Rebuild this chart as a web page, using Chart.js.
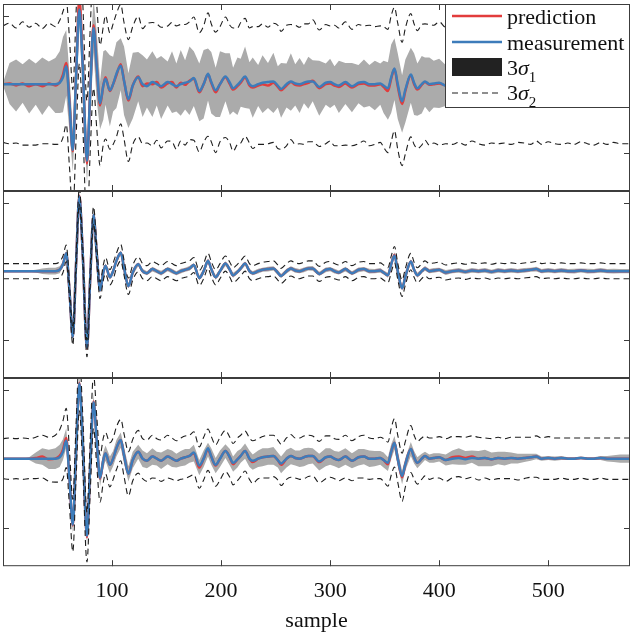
<!DOCTYPE html>
<html>
<head>
<meta charset="utf-8">
<script src="https://cdn.jsdelivr.net/npm/chart.js@4"></script>
<style>
  body { margin: 0; background: #fff; }
  #wrap { position: relative; width: 633px; height: 634px; }
  #wrap canvas { position: absolute; left: 0; }
</style>
</head>
<body>
<div id="wrap">
  <canvas id="panelTop" width="633" height="195" style="top:0px"></canvas>
  <canvas id="panelMid" width="633" height="195" style="top:187px"></canvas>
  <canvas id="panelBot" width="633" height="260" style="top:374px"></canvas>
</div>
<script>
'use strict';

// sample positions (read at the extrema / flat anchors of the traces)
const sampleIdx = [
  0, 6, 12, 18, 24, 30, 36, 42, 48, 52,
  55, 58, 61, 64, 67, 70, 73, 77, 80, 83,
  86, 89, 92, 94, 98, 101, 104, 108, 111, 115,
  119, 124, 128, 132, 137, 141, 145, 151, 155, 159,
  163, 167, 171, 175, 180, 184, 188, 191, 195, 199,
  204, 208, 211, 215, 218, 222, 226, 229, 234, 238,
  243, 248, 252, 255, 260, 264, 268, 272, 276, 280,
  284, 290, 296, 300, 304, 308, 314, 320, 326, 331,
  336, 341, 346, 349, 353, 356, 359, 362, 366, 369,
  374, 377, 380, 384, 387, 391, 395, 400, 406, 412,
  418, 424, 430, 436, 442, 448, 454, 460, 466, 472,
  478, 484, 489, 494, 500, 506, 512, 518, 524, 530,
  536, 542, 548, 554, 560, 566, 575
];

// measured signal (same in all three panels)
const measurement = [
  0, 0, 0, 0, 0, 0, 0, 0, 0, 0.02,
  0.1, 0.26, -0.3, -0.96, 0.1, 1.09, 0.3, -1.12, -0.1, 0.82,
  0.25, -0.28, -0.02, 0.08, -0.09, 0, 0.15, 0.27, 0.05, -0.22,
  -0.02, 0.1, 0, -0.03, 0.03, 0, -0.03, 0.03, 0, -0.03,
  0, 0.02, 0.04, 0.09, -0.1, 0, 0.15, 0.03, -0.09, 0,
  0.11, 0.02, -0.06, -0.01, 0.04, 0.11, 0, -0.03, 0, 0.02,
  0.03, 0.04, -0.02, -0.07, 0, 0.04, 0.01, 0, 0.02, 0.04,
  0.04, -0.04, 0.02, 0.03, 0, -0.02, 0.03, -0.03, 0.02, 0.03,
  0, 0, 0.01, -0.02, -0.06, 0.1, 0.23, 0, -0.25, -0.08,
  0.14, 0.02, -0.06, 0, 0.04, 0, 0.01, 0.02, -0.02, 0,
  0.01, -0.01, 0.01, 0, 0.01, -0.01, 0.01, 0, 0.01, 0,
  0.01, 0.02, 0.03, 0, 0.01, 0, 0.01, 0, 0, 0.01,
  0, 0, 0.01, 0, 0, 0, 0
];

// predictions, one per panel
const predTop = [
  0, 0.01, -0.02, 0.01, -0.03, 0, -0.03, 0.01, -0.02, 0.03,
  0.14, 0.31, -0.28, -0.98, 0.12, 1.25, 0.35, -1.16, -0.08, 0.86,
  0.25, -0.31, -0.02, 0.1, -0.1, 0, 0.13, 0.29, 0.05, -0.24,
  -0.02, 0.11, -0.03, 0.01, 0, 0.03, -0.05, 0.01, 0.03, -0.05,
  0.02, -0.01, 0.05, 0.08, -0.12, 0, 0.14, 0.02, -0.12, 0,
  0.1, 0, -0.08, -0.03, 0.02, 0.1, -0.02, -0.05, -0.02, 0,
  -0.02, 0.02, -0.04, -0.09, -0.02, 0.03, -0.01, -0.02, 0, 0.02,
  0.05, -0.06, 0, 0.01, -0.02, -0.04, 0.01, -0.05, 0, 0.01,
  -0.02, -0.02, 0, -0.04, -0.1, 0.08, 0.22, -0.03, -0.29, -0.1,
  0.13, 0, -0.08, -0.01, 0.03, -0.01, 0, 0.01, -0.02, 0,
  0.01, -0.01, 0.01, 0, 0.01, -0.01, 0.01, 0, 0.01, 0,
  0.01, 0.02, 0.03, 0, 0.01, 0, 0.01, 0, 0, 0.01,
  0, 0, 0.01, 0, 0, 0, 0
];
const predMid = [
  0, 0, 0, 0, 0, 0, 0, 0, 0, 0.02,
  0.1, 0.26, -0.3, -0.96, 0.1, 1.1, 0.3, -1.13, -0.1, 0.82,
  0.25, -0.28, -0.02, 0.08, -0.09, 0, 0.15, 0.27, 0.05, -0.22,
  -0.02, 0.1, 0, -0.03, 0.03, 0, -0.03, 0.03, 0, -0.03,
  0, 0.02, 0.04, 0.09, -0.1, 0, 0.15, 0.03, -0.09, 0,
  0.11, 0.02, -0.06, -0.01, 0.04, 0.11, 0, -0.03, 0, 0.02,
  0.03, 0.04, -0.02, -0.07, 0, 0.04, 0.01, 0, 0.02, 0.04,
  0.04, -0.04, 0.02, 0.03, 0, -0.02, 0.03, -0.03, 0.02, 0.03,
  0, 0, 0.01, -0.02, -0.06, 0.1, 0.24, 0, -0.25, -0.08,
  0.14, 0.02, -0.06, 0, 0.04, 0, 0.01, 0.02, -0.02, 0,
  0.01, -0.01, 0.01, 0, 0.01, -0.01, 0.01, 0, 0.01, 0,
  0.01, 0.02, 0.03, 0, 0.01, 0, 0.01, 0, 0, 0.01,
  0, 0, 0.01, 0, 0, 0, 0
];
const predBot = [
  0, 0, 0, 0, 0, 0.01, 0.03, -0.01, 0, 0.04,
  0.13, 0.3, -0.3, -0.97, 0.1, 1.1, 0.3, -1.14, -0.1, 0.83,
  0.25, -0.29, -0.02, 0.08, -0.09, 0, 0.15, 0.27, 0.05, -0.22,
  -0.02, 0.1, 0, -0.03, 0.03, 0, -0.03, 0.03, 0, -0.03,
  0, 0.02, 0.04, 0.08, -0.13, 0, 0.13, 0.03, -0.1, 0,
  0.11, 0.02, -0.08, -0.01, 0.04, 0.11, 0, -0.05, 0, 0.02,
  0.03, 0.04, -0.02, -0.09, 0, 0.04, 0.01, 0, 0.02, 0.04,
  0.04, -0.05, 0.02, 0.03, 0, -0.02, 0.03, -0.03, 0.02, 0.03,
  0, 0, 0.01, -0.02, -0.08, 0.1, 0.23, 0, -0.27, -0.08,
  0.14, 0.02, -0.06, 0, 0.04, 0, 0.01, 0.02, -0.02, 0.02,
  0.03, 0.01, 0.03, 0, 0.01, -0.01, 0.01, 0, 0.01, 0,
  0.01, 0.02, 0.03, 0, 0.01, 0, 0.01, 0, 0, 0.01,
  0, 0, 0.01, 0, 0, 0, 0
];

// 3*sigma1 (grey band half width) per panel
const sigma1Top = [
  0.02, 0.3, 0.38, 0.28, 0.4, 0.3, 0.42, 0.32, 0.4, 0.45,
  0.55, 0.48, 0.42, 0.3, 0.45, 0.4, 0.45, 0.3, 0.45, 0.4,
  0.5, 0.35, 0.5, 0.4, 0.52, 0.4, 0.48, 0.38, 0.5, 0.4,
  0.48, 0.36, 0.45, 0.35, 0.48, 0.34, 0.46, 0.32, 0.45, 0.35,
  0.48, 0.36, 0.5, 0.4, 0.42, 0.5, 0.38, 0.45, 0.36, 0.48,
  0.35, 0.45, 0.32, 0.42, 0.35, 0.45, 0.34, 0.44, 0.3, 0.42,
  0.33, 0.44, 0.3, 0.4, 0.32, 0.42, 0.3, 0.4, 0.28, 0.38,
  0.3, 0.4, 0.3, 0.36, 0.28, 0.38, 0.3, 0.36, 0.28, 0.35,
  0.3, 0.36, 0.3, 0.38, 0.42, 0.5, 0.45, 0.48, 0.42, 0.46,
  0.4, 0.45, 0.38, 0.42, 0.36, 0.4, 0.34, 0.36, 0.3, 0.32,
  0.3, 0.32, 0.3, 0.32, 0.3, 0.32, 0.3, 0.32, 0.3, 0.32,
  0.3, 0.32, 0.3, 0.32, 0.3, 0.32, 0.3, 0.32, 0.3, 0.32,
  0.3, 0.32, 0.3, 0.32, 0.3, 0.32, 0.3
];
const sigma1Mid = [
  0, 0, 0, 0, 0.01, 0.02, 0.04, 0.05, 0.05, 0.05,
  0.04, 0.04, 0.04, 0.04, 0.04, 0.04, 0.04, 0.04, 0.04, 0.04,
  0.035, 0.03, 0.035, 0.03, 0.035, 0.03, 0.035, 0.03, 0.035, 0.03,
  0.035, 0.03, 0.035, 0.03, 0.035, 0.03, 0.035, 0.03, 0.035, 0.03,
  0.035, 0.03, 0.035, 0.03, 0.035, 0.03, 0.035, 0.03, 0.035, 0.03,
  0.035, 0.03, 0.035, 0.03, 0.035, 0.03, 0.035, 0.03, 0.035, 0.03,
  0.035, 0.03, 0.035, 0.03, 0.035, 0.03, 0.035, 0.03, 0.035, 0.03,
  0.035, 0.03, 0.035, 0.03, 0.035, 0.03, 0.035, 0.03, 0.035, 0.03,
  0.035, 0.03, 0.035, 0.03, 0.035, 0.03, 0.035, 0.03, 0.035, 0.03,
  0.035, 0.03, 0.035, 0.03, 0.035, 0.03, 0.035, 0.03, 0.035, 0.03,
  0.035, 0.03, 0.035, 0.03, 0.035, 0.03, 0.035, 0.03, 0.035, 0.03,
  0.035, 0.03, 0.035, 0.03, 0.035, 0.03, 0.035, 0.03, 0.035, 0.03,
  0.035, 0.03, 0.035, 0.03, 0.035, 0.03, 0.03
];
const sigma1Bot = [
  0, 0, 0, 0, 0.02, 0.08, 0.12, 0.14, 0.15, 0.16,
  0.15, 0.14, 0.13, 0.12, 0.12, 0.13, 0.12, 0.13, 0.12, 0.12,
  0.12, 0.11, 0.12, 0.11, 0.12, 0.11, 0.12, 0.11, 0.12, 0.11,
  0.12, 0.1, 0.12, 0.11, 0.12, 0.1, 0.12, 0.11, 0.12, 0.1,
  0.11, 0.12, 0.1, 0.12, 0.11, 0.12, 0.1, 0.12, 0.11, 0.12,
  0.1, 0.12, 0.11, 0.12, 0.1, 0.11, 0.12, 0.11, 0.12, 0.13,
  0.12, 0.13, 0.11, 0.12, 0.13, 0.12, 0.11, 0.12, 0.13, 0.12,
  0.11, 0.12, 0.13, 0.12, 0.11, 0.12, 0.12, 0.11, 0.12, 0.11,
  0.12, 0.11, 0.1, 0.11, 0.1, 0.11, 0.1, 0.11, 0.1, 0.09,
  0.1, 0.09, 0.08, 0.07, 0.06, 0.06, 0.07, 0.06, 0.08, 0.1,
  0.12, 0.1, 0.09, 0.11, 0.12, 0.1, 0.09, 0.1, 0.08, 0.07,
  0.06, 0.05, 0.04, 0.03, 0.03, 0.03, 0.03, 0.02, 0.02, 0.02,
  0.02, 0.02, 0.03, 0.04, 0.05, 0.06, 0.06
];

// 3*sigma2 (dashed envelope half width) per panel
const sigma2Top = [
  0.85, 0.88, 0.84, 0.9, 0.86, 0.89, 0.84, 0.88, 0.86, 0.9,
  0.92, 0.9, 0.94, 0.9, 0.92, 0.95, 0.9, 0.92, 0.9, 0.92,
  0.9, 0.88, 0.86, 0.9, 0.85, 0.88, 0.9, 0.87, 0.85, 0.89,
  0.86, 0.88, 0.84, 0.87, 0.9, 0.85, 0.88, 0.84, 0.87, 0.9,
  0.85, 0.88, 0.86, 0.9, 0.87, 0.85, 0.9, 0.86, 0.88, 0.84,
  0.88, 0.86, 0.9, 0.85, 0.88, 0.86, 0.84, 0.89, 0.86, 0.88,
  0.85, 0.87, 0.9, 0.86, 0.88, 0.84, 0.87, 0.85, 0.88, 0.86,
  0.89, 0.85, 0.87, 0.84, 0.88, 0.86, 0.9, 0.85, 0.87, 0.84,
  0.88, 0.86, 0.85, 0.88, 0.9, 0.92, 0.9, 0.92, 0.9, 0.92,
  0.9, 0.88, 0.86, 0.88, 0.85, 0.88, 0.86, 0.9, 0.85, 0.88,
  0.86, 0.88, 0.84, 0.87, 0.9, 0.85, 0.88, 0.86, 0.89, 0.85,
  0.87, 0.9, 0.86, 0.88, 0.85, 0.87, 0.89, 0.86, 0.88, 0.85,
  0.87, 0.89, 0.86, 0.88, 0.85, 0.87, 0.87
];
const sigma2Mid = [
  0.11, 0.11, 0.11, 0.11, 0.11, 0.11, 0.11, 0.11, 0.11, 0.12,
  0.12, 0.12, 0.12, 0.12, 0.12, 0.12, 0.12, 0.12, 0.12, 0.12,
  0.12, 0.12, 0.11, 0.12, 0.11, 0.12, 0.11, 0.12, 0.11, 0.12,
  0.11, 0.11, 0.11, 0.11, 0.11, 0.11, 0.11, 0.11, 0.11, 0.11,
  0.11, 0.11, 0.11, 0.11, 0.11, 0.11, 0.11, 0.11, 0.11, 0.11,
  0.11, 0.11, 0.11, 0.11, 0.11, 0.11, 0.11, 0.11, 0.11, 0.11,
  0.11, 0.11, 0.11, 0.11, 0.11, 0.11, 0.11, 0.11, 0.11, 0.11,
  0.11, 0.11, 0.11, 0.11, 0.11, 0.11, 0.11, 0.11, 0.11, 0.11,
  0.11, 0.11, 0.11, 0.11, 0.11, 0.12, 0.12, 0.12, 0.12, 0.12,
  0.12, 0.11, 0.11, 0.11, 0.11, 0.11, 0.11, 0.11, 0.11, 0.11,
  0.11, 0.11, 0.11, 0.11, 0.11, 0.11, 0.11, 0.11, 0.11, 0.11,
  0.11, 0.11, 0.11, 0.11, 0.11, 0.11, 0.11, 0.11, 0.11, 0.11,
  0.11, 0.11, 0.11, 0.11, 0.11, 0.11, 0.11
];
const sigma2Bot = [
  0.29, 0.3, 0.29, 0.3, 0.29, 0.3, 0.31, 0.32, 0.34, 0.38,
  0.42, 0.43, 0.4, 0.38, 0.4, 0.4, 0.38, 0.36, 0.38, 0.39,
  0.36, 0.34, 0.32, 0.3, 0.32, 0.3, 0.31, 0.3, 0.31, 0.32,
  0.3, 0.31, 0.29, 0.3, 0.31, 0.29, 0.3, 0.31, 0.3, 0.29,
  0.3, 0.31, 0.3, 0.31, 0.3, 0.31, 0.3, 0.29, 0.3, 0.31,
  0.3, 0.29, 0.3, 0.31, 0.3, 0.29, 0.3, 0.31, 0.29, 0.3,
  0.31, 0.3, 0.29, 0.3, 0.3, 0.31, 0.29, 0.3, 0.31, 0.3,
  0.29, 0.3, 0.31, 0.3, 0.29, 0.3, 0.31, 0.29, 0.3, 0.31,
  0.3, 0.29, 0.3, 0.31, 0.32, 0.34, 0.35, 0.34, 0.35, 0.33,
  0.34, 0.32, 0.31, 0.3, 0.29, 0.3, 0.29, 0.3, 0.31, 0.3,
  0.29, 0.3, 0.3, 0.31, 0.29, 0.3, 0.3, 0.29, 0.3, 0.31,
  0.3, 0.29, 0.3, 0.3, 0.31, 0.3, 0.29, 0.3, 0.3, 0.29,
  0.3, 0.3, 0.29, 0.3, 0.3, 0.3, 0.3
];

const xTickValues = [100, 200, 300, 400, 500];
const yTickValues = [-1, 1];
const xRange = [0, 575];
const yRange = [-1.56, 1.17];

const RED = '#e23c3c';
const BLUE = '#3d7cba';
const BAND = '#ababab';
const DASH = '#1e1e1e';
const AXIS = '#3c3c3c';
const SERIF = '"Liberation Serif", "Times New Roman", serif';
const TICK_LEN = 6;

function toPoints(values) {
    return sampleIdx.map((x, i) => ({ x: x, y: values[i] }));
}

function shifted(center, width, sign) {
    return sampleIdx.map((x, i) => ({ x: x, y: center[i] + sign * width[i] }));
}

// box around each panel plus inward ticks on all four sides
const frameTicks = {
    id: 'frameTicks',
    afterDraw(chart) {
        const { ctx, chartArea: a, scales } = chart;
        ctx.save();
        ctx.strokeStyle = AXIS;
        ctx.lineWidth = 1;
        ctx.beginPath();
        xTickValues.forEach(v => {
            const px = Math.round(scales.x.getPixelForValue(v)) + 0.5;
            ctx.moveTo(px, a.top);
            ctx.lineTo(px, a.top + TICK_LEN);
            ctx.moveTo(px, a.bottom);
            ctx.lineTo(px, a.bottom - TICK_LEN);
        });
        yTickValues.forEach(v => {
            const py = Math.round(scales.y.getPixelForValue(v)) + 0.5;
            ctx.moveTo(a.left, py);
            ctx.lineTo(a.left + TICK_LEN, py);
            ctx.moveTo(a.right, py);
            ctx.lineTo(a.right - TICK_LEN, py);
        });
        ctx.stroke();
        ctx.strokeRect(a.left + 0.5, a.top + 0.5, a.width - 1, a.height - 1);
        ctx.restore();
    }
};

// legend box in the top panel (sigma needs an italic glyph and subscript)
const legendBox = {
    id: 'legendBox',
    afterDraw(chart) {
        const ctx = chart.ctx;
        const a = chart.chartArea;
        const x0 = 445, y0 = a.top, x1 = a.right, y1 = 108;
        const sx0 = 452, sx1 = 502, tx = 507;
        ctx.save();
        ctx.fillStyle = '#fff';
        ctx.fillRect(x0, y0, x1 - x0, y1 - y0);
        ctx.strokeStyle = AXIS;
        ctx.lineWidth = 1;
        ctx.strokeRect(x0 + 0.5, y0 + 0.5, x1 - x0 - 1, y1 - y0 - 1);

        ctx.lineWidth = 2.5;
        ctx.strokeStyle = RED;
        ctx.beginPath(); ctx.moveTo(sx0, 16); ctx.lineTo(sx1, 16); ctx.stroke();
        ctx.strokeStyle = BLUE;
        ctx.beginPath(); ctx.moveTo(sx0, 42); ctx.lineTo(sx1, 42); ctx.stroke();
        ctx.fillStyle = '#222';
        ctx.fillRect(sx0, 58, sx1 - sx0, 18);
        ctx.strokeStyle = DASH;
        ctx.lineWidth = 1.2;
        ctx.setLineDash([6, 4]);
        ctx.beginPath(); ctx.moveTo(sx0, 93); ctx.lineTo(sx1, 93); ctx.stroke();
        ctx.setLineDash([]);

        ctx.fillStyle = '#111';
        ctx.textBaseline = 'alphabetic';
        ctx.font = '22px ' + SERIF;
        ctx.fillText('prediction', tx, 24);
        ctx.fillText('measurement', tx, 50);
        [['1', 75], ['2', 100]].forEach(([sub, base]) => {
            let x = tx;
            ctx.font = '22px ' + SERIF;
            ctx.fillText('3', x, base);
            x += ctx.measureText('3').width;
            ctx.font = 'italic 22px ' + SERIF;
            ctx.fillText('σ', x, base);
            x += ctx.measureText('σ').width;
            ctx.font = '15px ' + SERIF;
            ctx.fillText(sub, x, base + 7);
        });
        ctx.restore();
    }
};

function buildPanel(canvasId, pred, sig1, sig2, opts) {
    const canvas = document.getElementById(canvasId);
    const ctx = canvas.getContext('2d');
    const lineBase = { pointRadius: 0, fill: false, cubicInterpolationMode: 'monotone' };

    const datasets = [
        Object.assign({}, lineBase, {
            label: 'measurement', data: toPoints(measurement),
            borderColor: BLUE, borderWidth: 2.5, order: 1
        }),
        Object.assign({}, lineBase, {
            label: 'prediction', data: toPoints(pred),
            borderColor: RED, borderWidth: 2.5, order: 2
        }),
        Object.assign({}, lineBase, {
            label: '3σ2', data: shifted(pred, sig2, 1),
            borderColor: DASH, borderWidth: 1.1, borderDash: [6, 4], order: 0
        }),
        Object.assign({}, lineBase, {
            label: '3σ2 low', data: shifted(pred, sig2, -1),
            borderColor: DASH, borderWidth: 1.1, borderDash: [6, 4], order: 0
        }),
        {
            label: '3σ1', data: shifted(pred, sig1, 1),
            pointRadius: 0, borderWidth: 0, tension: 0,
            backgroundColor: BAND, fill: '+1', order: 3
        },
        {
            label: '3σ1 low', data: shifted(pred, sig1, -1),
            pointRadius: 0, borderWidth: 0, tension: 0, fill: false, order: 4
        }
    ];

    const xScale = {
        type: 'linear', min: xRange[0], max: xRange[1], display: false
    };
    if (opts.showAxis) {
        Object.assign(xScale, {
            display: true,
            afterBuildTicks: axis => { axis.ticks = xTickValues.map(v => ({ value: v })); },
            grid: { display: false, drawTicks: false },
            border: { display: false },
            ticks: {
                autoSkip: false, maxRotation: 0, padding: 12, color: '#111',
                font: { family: SERIF, size: 22 }
            },
            title: {
                display: true, text: 'sample', color: '#111',
                font: { family: SERIF, size: 22 },
                padding: { top: -9, bottom: 0 }
            }
        });
    }

    return new Chart(ctx, {
        type: 'line',
        data: { datasets: datasets },
        options: {
            responsive: false,
            animation: false,
            layout: { padding: opts.padding },
            scales: {
                x: xScale,
                y: { type: 'linear', min: yRange[0], max: yRange[1], display: false }
            },
            plugins: {
                legend: { display: false },
                tooltip: { enabled: false }
            }
        },
        plugins: opts.plugins
    });
}

buildPanel('panelTop', predTop, sigma1Top, sigma2Top, {
    padding: { top: 4, bottom: 4, left: 3, right: 3 },
    plugins: [frameTicks, legendBox]
});
buildPanel('panelMid', predMid, sigma1Mid, sigma2Mid, {
    padding: { top: 4, bottom: 4, left: 3, right: 3 },
    plugins: [frameTicks]
});
buildPanel('panelBot', predBot, sigma1Bot, sigma2Bot, {
    padding: { top: 4, bottom: 0, left: 3, right: 3 },
    showAxis: true,
    plugins: [frameTicks]
});
</script>
</body>
</html>
